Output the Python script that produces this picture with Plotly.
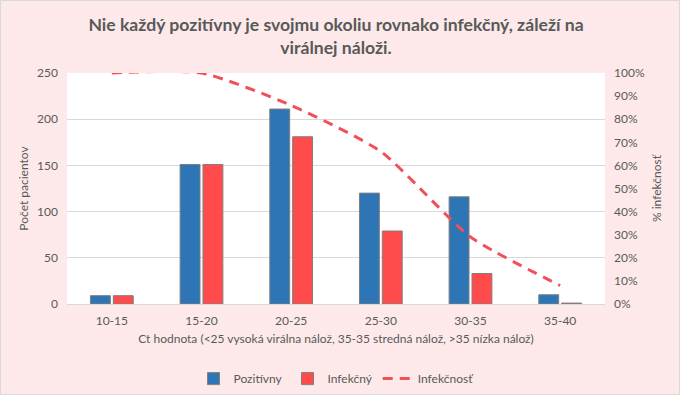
import plotly.graph_objects as go

categories = ["10-15", "15-20", "20-25", "25-30", "30-35", "35-40"]
pozitivny = [9, 151, 211, 120, 116, 10]
infekcny = [9, 151, 181, 79, 33, 1]
infekcnost = [1.0, 1.0, 0.86, 0.66, 0.29, 0.08]

font = "Lato, 'Liberation Sans', sans-serif"
grey = "#595959"
W, H = 680, 395
ML, MR, MT, MB = 67, 75, 73, 91

fig = go.Figure()
fig.add_trace(go.Bar(x=categories, y=pozitivny, name="Pozitívny",
                     marker=dict(color="#2E75B6", line=dict(color="#7F7F7F", width=1))))
fig.add_trace(go.Bar(x=categories, y=infekcny, name="Infekčný",
                     marker=dict(color="#FF4B4B", line=dict(color="#7F7F7F", width=1))))
fig.add_trace(go.Scatter(x=categories, y=infekcnost, name="Infekčnosť", yaxis="y2",
                         mode="lines", line=dict(color="#F0505A", width=3, dash="10px,7px",
                                                 shape="spline", smoothing=0.6)))

pw, ph = W - ML - MR, H - MT - MB
fig.add_shape(type="rect", xref="paper", yref="paper",
              x0=-(ML - 0.5) / pw, x1=1 + (MR - 0.5) / pw,
              y0=-(MB - 0.5) / ph, y1=1 + (MT - 0.5) / ph,
              line=dict(color="#D9D9D9", width=1), fillcolor="rgba(0,0,0,0)", layer="below")

fig.update_layout(
    width=W, height=H,
    paper_bgcolor="#FDE9E9", plot_bgcolor="white",
    margin=dict(l=ML, r=MR, t=MT, b=MB, autoexpand=False),
    font=dict(family=font, size=12, color=grey),
    title=dict(text="<b>Nie každý pozitívny je svojmu okoliu rovnako infekčný, záleží na<br>virálnej náloži.</b>",
               x=0.5, xanchor="center", xref="paper", y=1 - 31 / 395, yanchor="middle", yref="container",
               font=dict(size=17.6, color=grey, family=font)),
    barmode="group", bargap=0.49, bargroupgap=0.13,
    xaxis=dict(title=dict(text="Ct hodnota (<25 vysoká virálna nálož, 35-35 stredná nálož, >35 nízka nálož)",
                          font=dict(size=12, color=grey), standoff=7),
               automargin=False, showline=True, linecolor="#D9D9D9", ticks="",
               ticklabelstandoff=6, tickfont=dict(size=12, color=grey)),
    yaxis=dict(title=dict(text="Počet pacientov", font=dict(size=12, color=grey), standoff=5),
               automargin=False, range=[0, 250], dtick=50, gridcolor="#D9D9D9", zeroline=False,
               ticklabelstandoff=8, tickfont=dict(size=12, color=grey)),
    yaxis2=dict(title=dict(text="% infekčnosť", font=dict(size=12, color=grey), standoff=8),
                automargin=False, overlaying="y", side="right", range=[0, 1], dtick=0.1, tickformat=".0%",
                showgrid=False, zeroline=False, ticklabelstandoff=8, tickfont=dict(size=12, color=grey)),
    legend=dict(orientation="h", x=0.5, xanchor="center", y=-0.323, yanchor="middle",
                font=dict(size=12, color=grey), bgcolor="rgba(0,0,0,0)"),
)

fig.write_html("out.html", config={"displayModeBar": False},
               post_script="document.body.style.margin='0';document.body.style.background='#FDE9E9';")
